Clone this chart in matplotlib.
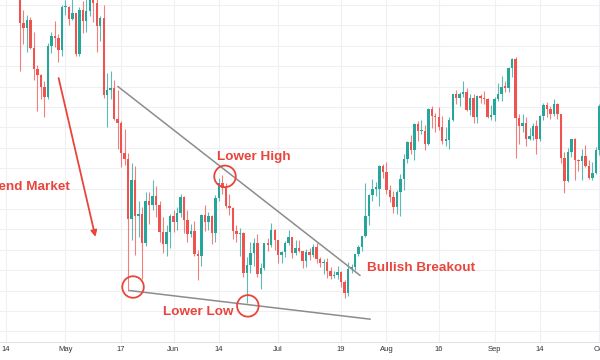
import numpy as np
import matplotlib
matplotlib.use("Agg")
import matplotlib.pyplot as plt

# ---- data (daily candles, price in thousands), first candle = Apr 12 (day -2) ----
start_day = -2  # day 0 = Apr 14
opens = [59.8,60.0,63.5,62.9,63.3,61.4,60.0,56.2,55.7,56.5,53.8,51.7,51.1,50.0,49.0,54.0,55.0,54.8,53.6,
         57.8,57.8,56.6,57.2,53.2,57.5,56.4,57.4,58.8,58.2,55.9,56.7,49.2,49.7,49.9,46.8,46.4,43.5,42.9,37.0,40.8,37.3,37.5,34.7,38.8,38.4,39.3,38.4,35.7,34.6,35.7,
         37.3,36.7,37.6,39.2,36.9,35.5,35.8,33.6,33.4,37.4,36.7,37.3,35.6,39.1,40.5,40.1,38.3,38.1,35.8,35.5,35.6,31.7,32.5,33.7,34.7,31.6,32.2,34.7,34.5,35.9,
         35.0,33.5,33.8,34.7,35.3,33.7,34.2,33.9,32.9,33.8,33.5,34.3,33.1,32.7,32.8,31.9,31.4,31.5,31.8,30.8,29.8,32.1,32.3,33.6,34.3,35.4,37.3,39.4,40.0,40.0,42.2,
         41.6,39.9,39.2,38.2,39.7,40.9,42.9,44.6,43.8,46.3,45.6,45.6,44.4,47.8,47.1,47.0,46.0,44.7,44.8,46.7,49.3,48.9,49.3,49.5,47.7,48.9,47.0,49.1,48.9,48.8,47.0,
         47.2,48.8,49.3,50.0,49.9,51.8,52.7,46.9,46.1,46.4,44.9,45.2,46.1,44.9,47.1,48.2,47.8,47.3,48.3,47.3,43.0,40.7,43.6,44.9,42.8,42.7,43.2,42.2,41.0,41.5,
         43.8,48.1]
highs = [61.2,63.7,64.8,63.8,63.5,62.5,60.5,57.5,57.0,56.8,55.4,52.1,51.2,50.5,54.3,55.4,56.4,55.2,58.0,
         58.5,57.9,58.9,57.2,57.8,58.4,58.6,59.5,59.3,59.5,56.9,58.0,51.3,51.5,50.6,49.7,46.6,45.8,43.5,42.5,42.2,38.8,38.2,39.7,39.7,40.8,40.3,38.8,37.2,36.4,37.5,
         37.9,38.2,39.5,39.3,37.9,36.5,36.8,34.0,37.5,38.4,37.7,37.4,39.4,41.0,41.3,40.5,39.5,38.2,36.4,36.1,35.7,33.3,34.8,35.2,35.5,32.7,34.7,35.2,36.6,36.0,
         35.0,33.9,34.9,35.9,35.3,35.0,35.0,33.9,34.1,34.2,34.6,34.7,33.3,33.1,33.2,32.3,31.9,32.4,31.9,31.0,32.8,32.6,33.6,34.5,35.4,40.5,39.5,40.9,40.6,42.3,42.4,
         42.6,40.4,39.8,39.9,41.4,43.4,44.7,45.3,46.4,46.6,46.7,46.2,47.9,48.1,47.4,48.0,47.1,46.0,47.0,49.3,49.7,49.5,50.5,49.9,49.3,49.3,49.2,49.3,49.6,48.9,48.2,
         49.0,50.4,51.0,50.5,51.9,52.8,52.9,47.3,47.3,47.0,45.9,46.4,46.7,47.2,48.4,48.5,48.1,48.8,48.4,47.3,43.6,44.0,44.9,45.0,42.9,43.9,44.3,42.8,42.6,44.1,
         48.3,48.4]
lows = [59.4,59.9,61.4,62.1,60.0,59.6,51.5,54.2,53.4,53.7,50.6,47.6,48.8,47.0,48.8,53.3,53.9,52.4,53.0,
        57.0,56.0,56.5,53.0,53.0,55.3,55.4,56.9,56.3,53.4,54.5,48.9,46.0,48.8,46.7,43.9,42.1,42.3,30.0,35.0,33.5,35.3,31.1,34.4,36.5,37.9,37.2,34.8,33.7,33.4,34.2,
        35.7,35.9,37.2,35.6,34.8,35.3,33.4,31.0,32.4,35.8,35.9,34.6,34.8,38.8,39.5,38.1,37.4,35.1,34.8,33.4,31.3,28.8,31.7,32.4,31.3,30.2,32.0,33.9,34.3,34.0,
        32.7,32.7,33.3,34.5,33.2,33.5,33.8,32.2,32.3,33.0,33.3,32.7,32.3,31.6,31.2,31.1,31.2,31.1,30.4,29.3,29.5,31.7,32.0,33.4,33.9,35.3,36.4,38.8,39.3,38.3,41.0,
        39.5,38.7,37.6,37.5,37.3,39.9,42.5,43.4,42.8,44.7,45.4,43.8,44.3,45.9,45.5,45.7,44.4,44.2,43.9,46.6,48.3,48.1,49.0,47.6,47.2,46.4,46.4,48.4,48.3,46.9,46.7,
        46.6,48.6,48.6,49.5,49.5,50.9,43.0,44.4,45.5,44.2,44.8,44.8,43.4,44.7,46.7,47.0,46.8,47.1,46.8,42.5,39.6,40.6,43.1,40.8,41.7,40.8,42.1,40.9,40.8,41.4,
        43.3,47.5]
closes = [60.0,63.5,62.9,63.3,61.4,60.0,56.2,55.7,56.5,53.8,51.7,51.1,50.0,49.0,54.0,55.0,54.8,53.6,57.8,
          57.8,56.6,57.2,53.2,57.5,56.4,57.4,58.8,58.2,55.9,56.7,49.2,49.7,49.9,46.8,46.4,43.5,42.9,37.0,40.8,37.3,37.5,34.7,38.8,38.4,39.3,38.4,35.7,34.6,35.7,37.3,
          36.7,37.6,39.2,36.9,35.5,35.8,33.6,33.4,37.4,36.7,37.3,35.6,39.1,40.5,40.1,38.3,38.1,35.8,35.5,35.6,31.7,32.5,33.7,34.7,31.6,32.2,34.7,34.5,35.9,35.0,
          33.5,33.8,34.7,35.3,33.7,34.2,33.9,32.9,33.8,33.5,34.3,33.1,32.7,32.8,31.9,31.4,31.5,31.8,30.8,29.8,32.1,32.3,33.6,34.3,35.4,37.3,39.4,40.0,40.0,42.2,41.6,
          39.9,39.2,38.2,39.7,40.9,42.9,44.6,43.8,46.3,45.6,45.6,44.4,47.8,47.1,47.0,46.0,44.7,44.8,46.7,49.3,48.9,49.3,49.5,47.7,48.9,47.0,49.1,48.9,48.8,47.0,47.2,
          48.8,49.3,50.0,49.9,51.8,52.7,46.9,46.1,46.4,44.9,45.2,46.1,44.9,47.1,48.2,47.8,47.3,48.3,47.3,43.0,40.7,43.6,44.9,42.8,42.7,43.2,42.2,41.0,41.5,43.8,
          48.1,47.7]

tick_days = [0, 17, 33, 48, 61, 78, 96, 109, 124, 140, 153, 170]
tick_labels = ["14", "May", "17", "Jun", "14", "Jul", "19", "Aug", "16", "Sep", "14", "Oct"]

# annotation geometry (day, price)
upper_line = ([32.1, 101.4], [50.0, 31.5])
lower_line = ([35.5, 104.3], [30.0, 27.2])
circles_x = [36.4, 69.3, 62.75]
circles_y = [30.35, 28.5, 41.2]

UP = "#26a69a"
DOWN = "#ef5350"
TXT = "#e8453c"

fig = plt.figure(figsize=(6, 3.6), dpi=100)
ax = fig.add_axes([0, 0.05, 1, 0.95])

x = np.arange(len(opens)) + start_day
o = np.array(opens); h = np.array(highs); l = np.array(lows); c = np.array(closes)
colors = np.where(c >= o, UP, DOWN)

ax.vlines(x, l, h, colors=colors, linewidth=0.8, alpha=0.75, zorder=2)
body_h = np.maximum(np.abs(c - o), 0.12)
ax.bar(x, body_h, bottom=np.minimum(o, c), width=0.7, color=colors, linewidth=0, zorder=3)

ax.set_xlim(-1.72, 170.2)
ax.set_ylim(24.96, 58.49)

# grid
for td in tick_days:
    ax.axvline(td, color="#eef0f4", linewidth=0.8, zorder=0)
for gy in np.arange(26, 59, 2):
    ax.axhline(gy, color="#eef0f4", linewidth=0.8, zorder=0)

# trend lines
ax.plot(*upper_line, color="#8c8c8c", linewidth=1.1, zorder=4)
ax.plot(*lower_line, color="#8c8c8c", linewidth=1.1, zorder=4)

# circles
ax.scatter(circles_x, circles_y, s=240, facecolors="none", edgecolors=TXT, linewidths=1.3, zorder=5)

# texts
font = ["Liberation Sans", "DejaVu Sans"]
ax.text(60.5, 43.1, "Lower High", color=TXT, fontsize=9.7, fontweight="bold", family=font, va="center", ha="left", zorder=6)
ax.text(45.0, 27.9, "Lower Low", color=TXT, fontsize=9.7, fontweight="bold", family=font, va="center", ha="left", zorder=6)
ax.text(103.4, 32.2, "Bullish Breakout", color=TXT, fontsize=9.7, fontweight="bold", family=font, va="center", ha="left", zorder=6)
ax.text(18.3, 40.2, "Downtrend Market", color=TXT, fontsize=9.7, fontweight="bold", family=font, va="center", ha="right", zorder=6)

# arrow
ax.annotate("", xy=(25.8, 35.0), xytext=(14.9, 51.1),
            arrowprops=dict(arrowstyle="-|>", color=TXT, lw=1.3, mutation_scale=9), zorder=6)

# axes styling
for s in ["top", "left", "right"]:
    ax.spines[s].set_visible(False)
ax.spines["bottom"].set_color("#e0e3eb")
ax.spines["bottom"].set_linewidth(0.8)
ax.set_yticks([])
ax.set_xticks(tick_days)
ax.set_xticklabels(tick_labels, fontsize=5.5, color="#333333", family=font)
ax.tick_params(axis="x", length=0, pad=3)

fig.savefig("out.png", dpi=100, facecolor="white")
